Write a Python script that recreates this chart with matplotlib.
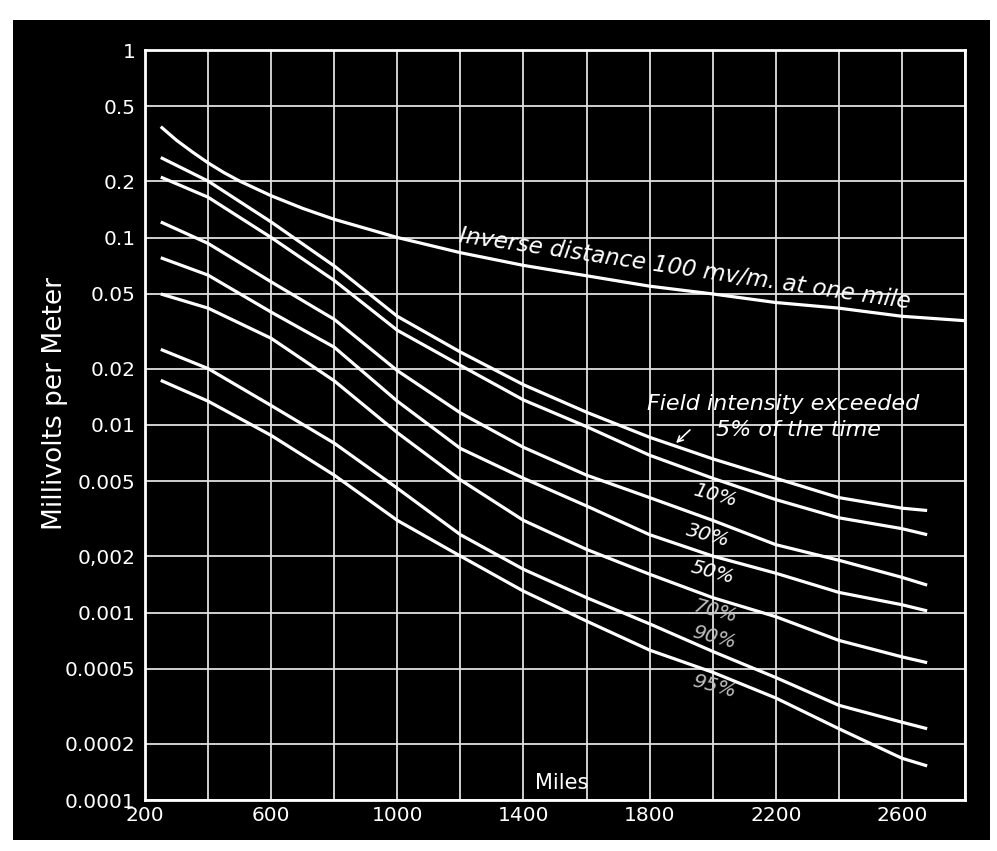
import matplotlib
matplotlib.use("Agg")
import matplotlib.pyplot as plt
from matplotlib.patches import Rectangle
from matplotlib.ticker import FixedLocator, NullLocator

# ---------------- data ----------------
miles = [250, 400, 600, 800, 1000, 1200, 1400, 1600, 1800, 2000, 2200, 2400, 2600, 2680]
p5  = [0.267, 0.200, 0.121, 0.0705, 0.038, 0.0245, 0.0164, 0.0117, 0.0086, 0.0066, 0.0052, 0.0041, 0.0036, 0.0035]
p10 = [0.210, 0.164, 0.100, 0.059, 0.032, 0.0208, 0.0136, 0.0098, 0.0069, 0.0052, 0.0040, 0.0032, 0.0028, 0.0026]
p30 = [0.121, 0.093, 0.058, 0.0366, 0.0195, 0.0116, 0.0076, 0.0054, 0.0041, 0.0031, 0.0023, 0.0019, 0.00154, 0.0014]
p50 = [0.078, 0.063, 0.040, 0.026, 0.0134, 0.0075, 0.0052, 0.0037, 0.0026, 0.0020, 0.00162, 0.00128, 0.0011, 0.00102]
p70 = [0.050, 0.042, 0.029, 0.0172, 0.0091, 0.0051, 0.0031, 0.00217, 0.0016, 0.0012, 0.00095, 0.00071, 0.00058, 0.00054]
p90 = [0.0253, 0.020, 0.0127, 0.0080, 0.0046, 0.0026, 0.0017, 0.0012, 0.00087, 0.00062, 0.00045, 0.00032, 0.00026, 0.00024]
p95 = [0.0173, 0.0134, 0.0088, 0.0054, 0.0031, 0.0020, 0.0013, 0.0009, 0.00063, 0.00048, 0.00035, 0.00024, 0.000167, 0.000152]

inv_miles = [250, 300, 350, 400, 450, 500, 600, 700, 800, 1000, 1200, 1400, 1600, 1800, 2000, 2200, 2400, 2600, 2800]
inv_mv = [0.39, 0.33, 0.286, 0.25, 0.222, 0.20, 0.167, 0.143, 0.125, 0.10, 0.083, 0.071, 0.0625,
          0.055, 0.05, 0.045, 0.042, 0.038, 0.036]

x_grid = [200, 400, 600, 800, 1000, 1200, 1400, 1600, 1800, 2000, 2200, 2400, 2600, 2800]
x_ticks = [200, 600, 1000, 1400, 1800, 2200, 2600]
x_ticklabels = ["200", "600", "1000", "1400", "1800", "2200", "2600"]
y_ticks = [1, 0.5, 0.2, 0.1, 0.05, 0.02, 0.01, 0.005, 0.002, 0.001, 0.0005, 0.0002, 0.0001]
y_ticklabels = ["1", "0.5", "0.2", "0.1", "0.05", "0.02", "0.01", "0.005", "0,002",
                "0.001", "0.0005", "0.0002", "0.0001"]

pct_labels = ["10%", "30%", "50%", "70%", "90%", "95%"]

# ---------------- figure ----------------
W, H = 997, 851
fig = plt.figure(figsize=(W / 100, H / 100), dpi=100, facecolor="white")
fig.patches.append(Rectangle((13 / W, 1 - 840 / H), (990 - 13) / W, (840 - 20) / H,
                             transform=fig.transFigure, facecolor="black",
                             edgecolor="none", zorder=-10))

L, R, T, B = 145, 965, 50, 800
ax = fig.add_axes([L / W, 1 - B / H, (R - L) / W, (B - T) / H])
ax.set_zorder(5)
ax.set_facecolor("black")
ax.set_yscale("log")
ax.set_xlim(200, 2800)
ax.set_ylim(0.0001, 1)

for s in ax.spines.values():
    s.set_color("white")
    s.set_linewidth(2)

ax.xaxis.set_major_locator(FixedLocator(x_ticks))
ax.set_xticklabels(x_ticklabels)
ax.xaxis.set_minor_locator(NullLocator())
ax.yaxis.set_major_locator(FixedLocator(y_ticks))
ax.set_yticklabels(y_ticklabels)
ax.yaxis.set_minor_locator(NullLocator())
ax.tick_params(axis="both", length=0, colors="white", labelsize=14.5)
ax.tick_params(axis="x", pad=4)
ax.tick_params(axis="y", pad=7)

for xv in x_grid:
    ax.axvline(xv, color="#e0e0e0", lw=1.3, zorder=1)
for yv in y_ticks:
    ax.axhline(yv, color="#e0e0e0", lw=1.3, zorder=1)

lw = 2.3
ax.plot(inv_miles, inv_mv, color="white", lw=lw, zorder=3, solid_capstyle="butt",
        solid_joinstyle="round")
for series in (p5, p10, p30, p50, p70, p90, p95):
    ax.plot(miles, series, color="white", lw=lw, zorder=3, solid_capstyle="butt",
            solid_joinstyle="round")

def px(xp, yp):
    return ((xp - L) / (R - L), (B - yp) / (B - T))

ax.text(*px(684, 275), "Inverse distance 100 mv/m. at one mile", transform=ax.transAxes,
        color="white", fontsize=16.5, style="italic", rotation=-8.4,
        ha="center", va="baseline", rotation_mode="anchor", zorder=4)
ax.text(*px(783, 404), "Field intensity exceeded", transform=ax.transAxes,
        color="white", fontsize=16, style="italic", ha="center", va="center", zorder=4)
ax.text(*px(798, 430), "5% of the time", transform=ax.transAxes,
        color="white", fontsize=16, style="italic", ha="center", va="center", zorder=4)
ax.annotate("", xy=px(674, 445), xytext=px(692, 428), xycoords="axes fraction",
            textcoords="axes fraction",
            arrowprops=dict(arrowstyle="->", color="white", lw=1.2), zorder=4)

label_pos = [(715, 495), (708, 535), (713, 572), (715, 611), (714, 637), (714, 686)]
label_col = ["white", "white", "white", "#bdbdbd", "#bdbdbd", "#bdbdbd"]
for t, (xp, yp), c in zip(pct_labels, label_pos, label_col):
    ax.text(*px(xp, yp), t, transform=ax.transAxes, color=c, fontsize=14.5,
            style="italic", rotation=-15, ha="center", va="center",
            rotation_mode="anchor", zorder=4)

ax.text(*px(562, 783), "Miles", transform=ax.transAxes, color="white",
        fontsize=15, ha="center", va="center", zorder=4)

fig.text(55 / W, 1 - 404 / H, "Millivolts per Meter", color="white", fontsize=19,
         rotation=90, ha="center", va="center")

fig.savefig("out.png", dpi=100, facecolor="white")
